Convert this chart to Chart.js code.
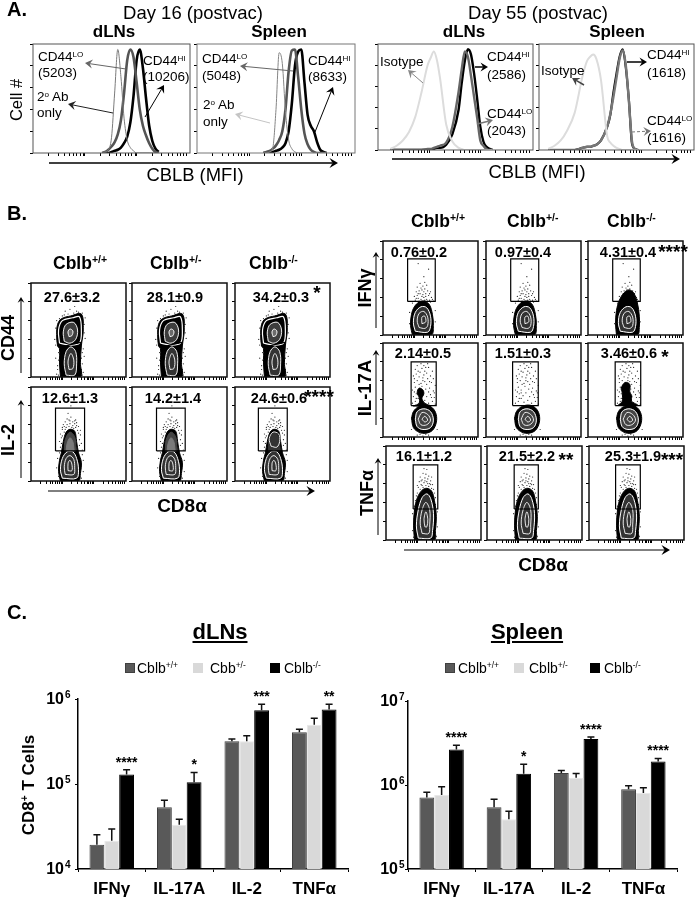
<!DOCTYPE html>
<html>
<head>
<meta charset="utf-8">
<title>CBLB figure</title>
<script src="https://cdn.jsdelivr.net/npm/chart.js@4"></script>
<style>
  html, body { margin: 0; padding: 0; background: #fff; }
  #page { position: relative; width: 695px; height: 899px; overflow: hidden; font-family: "Liberation Sans", Arial, sans-serif; color: #000; }
  #page canvas { position: absolute; }
  #page svg { position: absolute; left: 0; top: 0; }
  .t { position: absolute; white-space: nowrap; line-height: 1; }
  .t sup { font-size: .6em; vertical-align: .55em; line-height: 0; }
  .sw { position: absolute; width: 10px; height: 10px; }
</style>
</head>
<body>
<div id="page"></div>
<script>
// panel C values
const categories = ["IFNγ", "IL-17A", "IL-2", "TNFα"];
const dlnWt = [19300, 53100, 318000, 405000];
const dlnHet = [21500, 33200, 318000, 499000];
const dlnKo = [129000, 105000, 736000, 750000];
const dlnWtErr = [25300, 64300, 338000, 440000];
const dlnHetErr = [29500, 38400, 370000, 593000];
const dlnKoErr = [147000, 137000, 866000, 866000];
const dlnStars = ["****", "*", "***", "**"];
const dlnTicks = [1e4, 1e5, 1e6];
const spleenWt = [708000, 543000, 1390000, 889000];
const spleenHet = [761000, 392000, 1220000, 804000];
const spleenKo = [2650000, 1360000, 3540000, 1910000];
const spleenWtErr = [818000, 676000, 1490000, 982000];
const spleenHetErr = [955000, 487000, 1370000, 930000];
const spleenKoErr = [2980000, 1770000, 3740000, 2070000];
const spleenStars = ["****", "*", "****", "****"];
const spleenTicks = [1e5, 1e6, 1e7];

// panel A histograms
const histXTicks = [10, 16, 20, 23, 26, 28, 30, 32, 33, 43, 49, 53, 56, 59, 61, 63, 65, 66, 76, 82, 86, 89, 92, 94, 96, 98];
const histYTicks = [0, 20, 40, 60, 80, 100];
const d16LnX = [44, 46, 48, 50, 52, 54, 56, 58, 60, 62, 64, 66, 68, 70, 72, 74, 76, 78, 80];
const d16LnAb = [0, 1, 3, 14, 55, 95, 70, 32, 12, 5, 2, 0, 0, 0, 0, 0, 0, 0, 0];
const d16LnLo = [0, 1, 3, 6, 10, 17, 30, 55, 85, 95, 88, 65, 40, 25, 16, 9, 4, 1, 0];
const d16LnHi = [0, 0, 0, 1, 2, 3, 5, 9, 15, 28, 52, 85, 95, 78, 50, 25, 11, 4, 1];
const d16SpX = [42, 44, 46, 48, 50, 52, 54, 56, 58, 60, 62, 64, 66, 68, 70, 72, 74, 76, 78, 80, 82];
const d16SpAb = [0, 0, 1, 5, 40, 92, 82, 38, 12, 4, 1, 0, 0, 0, 0, 0, 0, 0, 0, 0, 0];
const d16SpLo = [0, 1, 2, 4, 7, 12, 20, 40, 75, 94, 95, 70, 40, 18, 8, 3, 1, 0, 0, 0, 0];
const d16SpHi = [0, 0, 0, 1, 2, 3, 5, 9, 20, 45, 80, 93, 95, 65, 35, 25, 20, 10, 3, 1, 0];
const d55LnX = [8, 12, 16, 20, 24, 28, 32, 34, 36, 38, 40, 44, 48, 52, 54, 56, 58, 60, 62, 64, 66, 68, 70, 72, 74];
const d55LnIso = [1, 4, 9, 17, 31, 54, 80, 87, 93, 85, 68, 24, 8, 2, 1, 0, 0, 0, 0, 0, 0, 0, 0, 0, 0];
const d55LnLo = [0, 0, 0, 0, 0, 0, 1, 1, 2, 3, 4, 7, 22, 55, 76, 93, 88, 70, 50, 30, 9, 4, 1, 0, 0];
const d55LnHi = [0, 0, 0, 0, 0, 0, 0, 0, 1, 2, 2, 5, 15, 38, 63, 84, 95, 90, 72, 48, 22, 8, 3, 1, 0];
const d55SpX = [6, 10, 14, 18, 23, 28, 31, 33, 35, 37, 40, 44, 46, 48, 50, 52, 54, 56, 58, 60, 62, 64];
const d55SpIso = [1, 4, 9, 18, 35, 69, 84, 88, 90, 86, 66, 13, 7, 4, 2, 1, 0, 0, 0, 0, 0, 0];
const d55SpLo = [0, 0, 0, 0, 0, 2, 3, 3, 4, 5, 9, 22, 34, 50, 68, 86, 94, 80, 46, 8, 1, 0];
const d55SpHi = [0, 0, 0, 0, 0, 2, 3, 3, 4, 5, 9, 22, 33, 54, 72, 88, 95, 78, 47, 6, 1, 0];

// panel B percentages and gates
const cd44Vals = ["27.6±3.2", "28.1±0.9", "34.2±0.3"];
const il2Vals = ["12.6±1.3", "14.2±1.4", "24.6±0.6"];
const ifnVals = ["0.76±0.2", "0.97±0.4", "4.31±0.4"];
const il17Vals = ["2.14±0.5", "1.51±0.3", "3.46±0.6"];
const tnfVals = ["16.1±1.2", "21.5±2.2", "25.3±1.9"];
const il2Gates = [[25.8, 56.4, 32, 77.6], [25.8, 56, 32, 77.6], [24.6, 55, 32, 77.6]];
const ifnGates = [[25.9, 55, 35.7, 81], [26, 55.5, 35.7, 81], [26, 55, 35.7, 81]];
const il17Gates = [[29.6, 56, 33.4, 80], [28, 55, 33.4, 80], [28.6, 55.5, 33.4, 80]];
const tnfGates = [[28.6, 54.5, 33, 80], [28.6, 54, 33, 80], [28, 54, 33, 80]];

// contour outlines
const cd44Outer = [[31, 0], [30, 15], [30, 30], [28, 33], [27, 45], [28, 56], [32, 62], [42, 65], [53, 67], [55, 50], [53, 33], [52, 15], [52, 0], [31, 0]];
const cd44RingA = [[30, 36], [29, 50], [33, 60], [44, 63], [51, 64], [53, 50], [51, 36], [40, 34], [30, 36]];
const cd44RingB = [[35, 38], [34, 48], [37, 56], [45, 58], [49, 50], [47, 40], [41, 36], [35, 38]];
const cd44RingC = [[40, 43], [39, 48], [41, 51], [44, 49], [43, 44], [40, 43]];
const cd44Waist = [[29, 32], [36, 33], [44, 35], [53, 37]];
const cd44LowA = [[37, 2], [35, 14], [37, 27], [42, 32], [47, 27], [48, 14], [46, 2], [37, 2]];
const cd44LowB = [[40, 8], [39, 17], [42, 25], [45, 18], [44, 9], [40, 8]];
const il2Outer = [[31, 0], [29, 10], [30, 22], [32, 30], [34, 42], [37, 52], [41, 55], [46, 53], [48, 42], [50, 30], [53, 20], [52, 8], [50, 0], [31, 0]];
const il2Upper = [[35, 32], [36, 44], [41, 52], [46, 47], [47, 38], [47, 32], [35, 32]];
const il2UpperIn = [[37, 32], [38, 40], [41, 46], [44, 42], [45, 36], [45, 32], [37, 32]];
const il2RingA = [[33, 3], [31, 12], [33, 24], [38, 31], [44, 31], [48, 24], [50, 12], [48, 3], [33, 3]];
const il2RingB = [[36, 7], [35, 15], [37, 24], [41, 27], [45, 23], [46, 14], [45, 7], [36, 7]];
const il2RingC = [[39, 11], [39, 19], [41, 22], [43, 18], [43, 11], [39, 11]];
const il2KoRing = [[38, 37], [36, 45], [40, 52], [46, 50], [47, 42], [44, 36], [38, 37]];
const ifnOuter = [[31, 0], [29, 10], [30, 22], [33, 30], [38, 35], [44, 36], [49, 32], [52, 22], [53, 10], [51, 0], [31, 0]];
const ifnKoOuter = [[30, 0], [29, 12], [30, 26], [33, 37], [38, 45], [43, 48], [48, 45], [52, 34], [54, 20], [54, 8], [52, 0], [30, 0]];
const ifnRingA = [[34, 4], [32, 13], [34, 24], [40, 30], [46, 29], [50, 20], [50, 9], [47, 3], [34, 4]];
const ifnRingB = [[38, 8], [36, 15], [38, 23], [43, 25], [47, 19], [47, 10], [44, 7], [38, 8]];
const ifnRingC = [[41, 12], [41, 19], [44, 20], [45, 14], [41, 12]];
const il17Outer = [[30, 20], [32, 10], [38, 5], [45, 4], [52, 7], [56, 15], [56, 24], [52, 31], [45, 34], [37, 32], [32, 27], [30, 20]];
const il17RingA = [[34, 19], [36, 11], [42, 8], [50, 10], [53, 18], [50, 27], [43, 30], [36, 27], [34, 19]];
const il17RingB = [[37, 19], [40, 13], [46, 13], [50, 18], [47, 24], [41, 26], [37, 19]];
const il17RingC = [[41, 19], [44, 16], [47, 18], [44, 22], [41, 19]];
const il17BlobWt = [[32, 33], [38, 36], [38, 42], [36, 47], [38, 52], [42, 50], [43, 46], [41, 41], [44, 36], [50, 33], [32, 33]];
const il17BlobKo = [[32, 34], [36, 38], [36, 47], [35, 52], [39, 58], [44, 56], [44, 48], [46, 44], [46, 38], [52, 34], [32, 34]];
const tnfOuter = [[30, 0], [29, 15], [30, 32], [33, 45], [38, 53], [43, 55], [48, 52], [51, 42], [53, 25], [52, 10], [51, 0], [30, 0]];
const tnfRingA = [[34, 2], [32, 15], [34, 32], [38, 45], [43, 49], [47, 44], [50, 28], [49, 10], [47, 2], [34, 2]];
const tnfRingB = [[38, 7], [36, 18], [38, 32], [42, 40], [46, 32], [46, 16], [45, 7], [38, 7]];
const tnfRingC = [[41, 14], [40, 22], [42, 30], [44, 22], [43, 14], [41, 14]];

// stray events outside the contours
const cd44Dots = [[27, 3], [28, 12], [26, 20], [29, 26], [55, 5], [54, 14], [56, 22], [55, 30], [57, 41], [56, 56], [57, 63], [30, 62], [26, 52], [25, 40], [35, 66], [45, 68], [50, 69], [41, 72], [46, 75], [36, 70], [54, 68], [28, 8], [54, 26], [26, 34], [29, 18], [53, 8], [53, 20], [56, 47], [27, 60], [33, 65], [39, 67], [48, 70], [29, 2], [54, 2]];
const il2Dots = [[33, 55], [35, 58], [38, 60], [41, 61], [44, 59], [47, 57], [49, 54], [31, 50], [32, 46], [52, 49], [51, 44], [36, 63], [40, 65], [44, 63], [48, 62], [34, 60], [37, 57], [46, 61], [42, 68], [39, 72], [42, 80], [50, 58], [30, 42], [53, 40], [31, 36], [54, 33], [28, 24], [55, 22], [27, 14], [55, 10], [29, 5], [53, 3], [43, 57], [35, 52], [38, 66], [47, 65], [33, 48], [50, 51], [36, 55], [40, 58], [45, 56], [48, 59], [33, 57], [52, 54], [41, 64], [30, 30], [54, 28], [51, 38], [32, 40], [46, 64]];
const ifnDots = [[34, 37], [37, 39], [40, 38], [43, 40], [46, 38], [49, 37], [36, 42], [39, 44], [42, 43], [45, 44], [48, 42], [51, 40], [33, 41], [38, 47], [41, 48], [44, 49], [47, 47], [35, 46], [42, 52], [39, 55], [46, 53], [36, 51], [50, 46], [53, 36], [43, 62], [37, 76], [48, 70], [31, 34], [44, 37], [41, 41], [35, 39], [38, 36], [47, 36], [50, 35], [43, 46], [40, 50], [37, 44], [49, 44], [45, 41], [52, 38], [44, 56], [28, 12], [28, 24], [55, 14], [55, 26]];
const il17Dots = [[31, 36], [34, 38], [37, 41], [40, 37], [44, 39], [48, 36], [52, 38], [55, 35], [32, 43], [35, 46], [39, 44], [42, 47], [46, 43], [50, 45], [54, 42], [31, 50], [34, 53], [37, 50], [41, 54], [45, 51], [49, 52], [53, 49], [33, 58], [36, 60], [40, 57], [44, 59], [47, 62], [51, 58], [55, 55], [32, 65], [35, 67], [38, 64], [42, 63], [46, 68], [50, 65], [53, 62], [34, 72], [37, 70], [41, 73], [44, 70], [48, 74], [52, 70], [36, 76], [40, 78], [43, 76], [47, 78], [33, 48], [38, 56], [43, 66], [49, 59], [35, 41], [46, 56], [39, 69], [45, 74], [51, 42], [37, 47], [42, 60], [48, 48], [33, 62], [54, 47], [36, 2], [42, 1], [48, 2], [39, 3], [45, 3], [30, 8], [57, 8]];
const tnfDots = [[33, 50], [36, 54], [39, 56], [42, 58], [45, 57], [48, 55], [51, 50], [34, 56], [37, 59], [40, 61], [43, 62], [46, 60], [49, 59], [35, 62], [38, 64], [41, 66], [44, 65], [47, 63], [36, 67], [42, 70], [45, 68], [39, 71], [48, 67], [43, 75], [52, 45], [31, 42], [54, 30], [28, 28], [54, 14], [28, 10], [53, 4], [29, 3], [40, 76], [33, 58], [32, 47], [50, 54], [37, 63], [44, 60], [41, 63], [47, 59], [38, 58], [52, 38], [30, 36]];

const FONT = '"Liberation Sans", Arial, sans-serif';
const page = document.getElementById("page");

Chart.defaults.animation = false;
Chart.defaults.font.family = FONT;

const framePlugin = {
  id: "frame",
  afterDatasetsDraw(chart, args, opts) {
    const a = chart.chartArea;
    const ctx = chart.ctx;
    ctx.save();
    ctx.strokeStyle = opts.color;
    ctx.lineWidth = opts.width;
    ctx.strokeRect(a.left, a.top, a.right - a.left, a.bottom - a.top);
    ctx.restore();
  },
};

// error bars and significance marks, plus the 10^n labels
const barExtras = {
  id: "barExtras",
  afterDatasetsDraw(chart, args, opts) {
    const ctx = chart.ctx;
    const y = chart.scales.y;
    ctx.save();
    ctx.strokeStyle = "#111";
    ctx.lineWidth = 1.5;
    opts.errors.forEach((errs, d) => {
      chart.getDatasetMeta(d).data.forEach((bar, i) => {
        const top = y.getPixelForValue(errs[i]);
        ctx.beginPath();
        ctx.moveTo(bar.x, y.getPixelForValue(chart.data.datasets[d].data[i]));
        ctx.lineTo(bar.x, top);
        ctx.moveTo(bar.x - 3.5, top);
        ctx.lineTo(bar.x + 3.5, top);
        ctx.stroke();
      });
    });
    ctx.fillStyle = "#000";
    ctx.textAlign = "center";
    ctx.font = "bold 14px " + FONT;
    const last = opts.errors.length - 1;
    chart.getDatasetMeta(last).data.forEach((bar, i) => {
      ctx.fillText(opts.stars[i], bar.x, y.getPixelForValue(opts.errors[last][i]) - 3);
    });
    y.ticks.forEach((t) => {
      const py = y.getPixelForValue(t.value);
      const x = chart.chartArea.left - opts.labelGap;
      ctx.textAlign = "right";
      ctx.textBaseline = "middle";
      ctx.font = "bold 16px " + FONT;
      ctx.fillText("10", x, py + 1);
      ctx.textAlign = "left";
      ctx.font = "bold 10px " + FONT;
      ctx.fillText(String(Math.round(Math.log10(t.value))), x + 1, py - 4);
    });
    ctx.restore();
  },
};

// small boxed plot with ticks around a 0-100 data frame
function framedChart(x, y, w, h, datasets, frame) {
  const c = document.createElement("canvas");
  c.width = w + 6;
  c.height = h + 6;
  c.style.left = x - 4 + "px";
  c.style.top = y - 2 + "px";
  page.appendChild(c);
  new Chart(c, {
    type: "scatter",
    data: { datasets },
    options: {
      responsive: false,
      layout: { padding: { top: 2, right: 2 } },
      plugins: { legend: { display: false }, tooltip: { enabled: false }, frame },
      scales: {
        x: {
          type: "linear", min: 0, max: 100,
          border: { display: false },
          grid: { drawOnChartArea: false, tickLength: 3, color: "#000" },
          ticks: { display: false, autoSkip: false },
          afterBuildTicks: (s) => { s.ticks = histXTicks.map((value) => ({ value })); },
          afterFit: (s) => { s.height = 4; },
        },
        y: {
          type: "linear", min: 0, max: 100,
          border: { display: false },
          grid: { drawOnChartArea: false, tickLength: 3, color: "#000" },
          ticks: { display: false, autoSkip: false },
          afterBuildTicks: (s) => { s.ticks = histYTicks.map((value) => ({ value })); },
          afterFit: (s) => { s.width = 4; },
        },
      },
    },
    plugins: [framePlugin],
  });
}

function histCurve(xs, ys, color, width) {
  return {
    data: xs.map((x, i) => ({ x, y: ys[i] })),
    showLine: true, borderColor: color, borderWidth: width,
    pointRadius: 0, cubicInterpolationMode: "monotone",
  };
}

function histChart(x, y, w, h, curves, color) {
  framedChart(x, y, w, h, curves, { color, width: 1 });
}

const toXY = (pts) => pts.map((p) => ({ x: p[0], y: p[1] }));

function solid(pts, color) {
  return { data: toXY(pts), showLine: true, fill: "shape", backgroundColor: color, borderColor: color, borderWidth: 1, pointRadius: 0, tension: 0.35 };
}
function ring(pts, color, width) {
  return { data: toXY(pts), showLine: true, borderColor: color, borderWidth: width, pointRadius: 0, tension: 0.35 };
}
function gateBox(g) {
  return {
    data: toXY([[g[0], g[2]], [g[1], g[2]], [g[1], g[3]], [g[0], g[3]], [g[0], g[2]]]),
    showLine: true, borderColor: "#000", borderWidth: 1.2, pointRadius: 0,
  };
}
function dots(pts) {
  return { data: toXY(pts), showLine: false, pointRadius: 0.6, backgroundColor: "#222", borderWidth: 0 };
}

// first dataset ends up on top, so layers are written bottom to top and flipped
function flowChart(x, y, layers) {
  framedChart(x, y, 97, 96, layers.slice().reverse(), { color: "#111", width: 1.5 });
}

// panel A
histChart(33, 44, 157, 109, [
  histCurve(d16LnX, d16LnAb, "#7a7a7a", 1),
  histCurve(d16LnX, d16LnLo, "#555", 2.6),
  histCurve(d16LnX, d16LnHi, "#000", 2.6),
], "#555");
histChart(197, 44, 158, 109, [
  histCurve(d16SpX, d16SpAb, "#858585", 1),
  histCurve(d16SpX, d16SpLo, "#555", 2.6),
  histCurve(d16SpX, d16SpHi, "#000", 2.6),
], "#777");
histChart(378, 44, 155, 106, [
  histCurve(d55LnX, d55LnIso, "#dcdcdc", 2),
  histCurve(d55LnX, d55LnLo, "#666", 2.4),
  histCurve(d55LnX, d55LnHi, "#000", 2.4),
], "#555");
histChart(539, 44, 155, 106, [
  histCurve(d55SpX, d55SpIso, "#dcdcdc", 2),
  histCurve(d55SpX, d55SpLo, "#777", 2.4),
  histCurve(d55SpX, d55SpHi, "#000", 2.2),
], "#555");

// panel B, left block
[31, 132, 235].forEach((x) => {
  flowChart(x, 281, [
    dots(cd44Dots), solid(cd44Outer, "#000"), solid(cd44RingB, "#3d3d3d"),
    ring(cd44RingA, "#fff", 1.2), ring(cd44RingB, "#fff", 0.9), solid(cd44RingC, "#6a6a6a"),
    ring(cd44RingC, "#fff", 0.9), solid(cd44LowA, "#333"), ring(cd44LowA, "#fff", 0.9),
    ring(cd44LowB, "#fff", 0.9), ring(cd44Waist, "#000", 1.2),
  ]);
});
[31, 132, 235].forEach((x, i) => {
  const upper = i < 2
    ? [solid(il2Upper, "#444"), solid(il2UpperIn, "#7a7a7a")]
    : [solid(il2Upper, "#333"), ring(il2KoRing, "#fff", 0.9)];
  flowChart(x, 385, [
    dots(il2Dots), solid(il2Outer, "#000"), ...upper, solid(il2RingA, "#333"),
    ring(il2RingA, "#fff", 1), ring(il2RingB, "#fff", 0.9), ring(il2RingC, "#fff", 0.9),
    gateBox(il2Gates[i]),
  ]);
});

// panel B, right block
[383, 486, 588].forEach((x, i) => {
  flowChart(x, 239, [
    dots(ifnDots), solid(i === 2 ? ifnKoOuter : ifnOuter, "#000"), solid(ifnRingA, "#333"),
    ring(ifnRingA, "#fff", 1), ring(ifnRingB, "#fff", 0.9), ring(ifnRingC, "#fff", 0.9),
    gateBox(ifnGates[i]),
  ]);
});
[383, 486, 588].forEach((x, i) => {
  const blob = i === 0 ? [solid(il17BlobWt, "#000")] : i === 2 ? [solid(il17BlobKo, "#000")] : [];
  flowChart(x, 341, [
    dots(il17Dots), ...blob, solid(il17Outer, "#000"), solid(il17RingA, "#444"),
    ring(il17RingA, "#fff", 1), ring(il17RingB, "#fff", 0.9), ring(il17RingC, "#fff", 0.9),
    gateBox(il17Gates[i]),
  ]);
});
[386, 487, 589].forEach((x, i) => {
  flowChart(x, 444, [
    dots(tnfDots), solid(tnfOuter, "#000"), solid(tnfRingA, "#333"),
    ring(tnfRingA, "#fff", 1), ring(tnfRingB, "#fff", 0.9), ring(tnfRingC, "#fff", 0.9),
    gateBox(tnfGates[i]),
  ]);
});

// panel C
function barChart(x, y, w, h, left, wt, het, ko, errors, stars, ticks, min, max, labelGap) {
  const c = document.createElement("canvas");
  c.width = w + left + 2;
  c.height = h + 44;
  c.style.left = x - left + "px";
  c.style.top = y - 14 + "px";
  page.appendChild(c);
  const bar = (label, data, bg, border) => ({
    label, data, backgroundColor: bg, borderColor: border, borderWidth: 1,
    categoryPercentage: 0.66, barPercentage: 1,
  });
  new Chart(c, {
    type: "bar",
    data: {
      labels: categories,
      datasets: [
        bar("Cblb+/+", wt, "#595959", "#404040"),
        bar("Cblb+/-", het, "#d9d9d9", "#e8e8e8"),
        bar("Cblb-/-", ko, "#000", "#000"),
      ],
    },
    options: {
      responsive: false,
      layout: { padding: { top: 14, right: 2 } },
      plugins: {
        legend: { display: false }, tooltip: { enabled: false },
        barExtras: { errors, stars, labelGap },
      },
      scales: {
        x: {
          border: { color: "#000", width: 1.5 },
          grid: { drawOnChartArea: false, tickLength: 3, color: "#000" },
          ticks: { color: "#000", padding: 7, font: { size: 17, weight: "bold" }, maxRotation: 0 },
          afterFit: (s) => { s.height = 30; },
        },
        y: {
          type: "logarithmic", min, max,
          border: { color: "#000", width: 1.5 },
          grid: { drawOnChartArea: false, tickLength: 3, color: "#000" },
          ticks: { display: false, autoSkip: false },
          afterBuildTicks: (s) => { s.ticks = ticks.map((value) => ({ value })); },
          afterFit: (s) => { s.width = left; },
        },
      },
    },
    plugins: [barExtras],
  });
}
barChart(78, 699, 270, 170, 40, dlnWt, dlnHet, dlnKo, [dlnWtErr, dlnHetErr, dlnKoErr], dlnStars, dlnTicks, 1e4, 1e6, 14);
barChart(408, 701, 269, 168, 40, spleenWt, spleenHet, spleenKo, [spleenWtErr, spleenHetErr, spleenKoErr], spleenStars, spleenTicks, 1e5, 1e7, 10);

// arrows
const svg = document.createElementNS("http://www.w3.org/2000/svg", "svg");
svg.setAttribute("width", 695);
svg.setAttribute("height", 899);
page.appendChild(svg);
function arrow(x1, y1, x2, y2, color, width, head, dash) {
  const a = Math.atan2(y2 - y1, x2 - x1);
  const line = document.createElementNS(svg.namespaceURI, "line");
  line.setAttribute("x1", x1);
  line.setAttribute("y1", y1);
  line.setAttribute("x2", x2 - Math.cos(a) * head * 0.6);
  line.setAttribute("y2", y2 - Math.sin(a) * head * 0.6);
  line.setAttribute("stroke", color);
  line.setAttribute("stroke-width", width);
  if (dash) line.setAttribute("stroke-dasharray", dash);
  svg.appendChild(line);
  const px = (r, t) => (x2 + Math.cos(a + t) * r).toFixed(1) + "," + (y2 + Math.sin(a + t) * r).toFixed(1);
  const tri = document.createElementNS(svg.namespaceURI, "polygon");
  tri.setAttribute("points", [px(0, 0), px(head * 1.1, 2.6), px(head * 0.6, Math.PI), px(head * 1.1, -2.6)].join(" "));
  tri.setAttribute("fill", color);
  svg.appendChild(tri);
}
arrow(49, 163, 338, 163, "#000", 1.5, 9);
arrow(392, 159, 680, 159, "#000", 1.5, 9);
arrow(126, 69, 85, 63, "#666", 1, 8);
arrow(113, 113, 68, 104, "#222", 1, 8);
arrow(145, 117, 164, 85, "#000", 1, 8);
arrow(293, 71, 240, 66, "#666", 1, 8);
arrow(270, 123, 235, 114, "#c4c4c4", 1, 8);
arrow(315, 132, 333, 87, "#000", 1, 8);
arrow(423, 83, 408, 70, "#888", 1, 8);
arrow(475, 67, 488, 67, "#000", 1.5, 8);
arrow(477, 124, 493, 120, "#777", 1.5, 8);
arrow(584, 85, 572, 78, "#444", 1.5, 8);
arrow(627, 62, 647, 62, "#000", 1.5, 8);
arrow(632, 132, 651, 131, "#777", 1, 8, "3 2");
arrow(21, 373, 21, 297, "#000", 1, 6);
arrow(21, 478, 21, 400, "#000", 1, 6);
arrow(48, 491, 315, 491, "#000", 1, 9);
arrow(376, 328, 376, 252, "#000", 1, 6);
arrow(376, 425, 376, 350, "#000", 1, 6);
arrow(378, 535, 378, 458, "#000", 1, 6);
arrow(404, 550, 670, 550, "#000", 1, 9);

// text
function put(x, y, html, size, opts) {
  const o = opts || {};
  const d = document.createElement("div");
  d.className = "t";
  d.innerHTML = html;
  d.style.left = x + "px";
  d.style.top = y + "px";
  d.style.fontSize = size + "px";
  if (o.bold) d.style.fontWeight = "bold";
  if (o.under) d.style.textDecoration = "underline";
  const shift = o.center || o.rot ? "-50%" : "0";
  d.style.transform = "translate(" + shift + ",-50%)" + (o.rot ? " rotate(-90deg)" : "");
  page.appendChild(d);
}
const B = { bold: true };
const BC = { bold: true, center: true };
const C = { center: true };
const R = { rot: true };
const BR = { bold: true, rot: true };

put(7, 9, "A.", 20, B);
put(7, 213, "B.", 20, B);
put(7, 612, "C.", 20, B);
put(193, 13, "Day 16 (postvac)", 18.5, C);
put(538, 13, "Day 55 (postvac)", 18.5, C);
put(114, 31, "dLNs", 17, BC);
put(279, 31, "Spleen", 17, BC);
put(464, 31, "dLNs", 17, BC);
put(617, 31, "Spleen", 17, BC);
put(16, 100, "Cell #", 16.5, R);
put(195, 175, "CBLB (MFI)", 18.4, C);
put(537, 172, "CBLB (MFI)", 18.4, C);

const LO = "CD44<sup>LO</sup>";
const HI = "CD44<sup>HI</sup>";
const AB = "2<sup>o</sup> Ab";
[
  [38, 57, LO], [38, 73, "(5203)"], [37, 97, AB], [37, 113, "only"], [143, 61, HI], [143, 77, "(10206)"],
  [202, 59, LO], [202, 76, "(5048)"], [203, 105, AB], [203, 122, "only"], [308, 61, HI], [308, 77, "(8633)"],
  [380, 62, "Isotype"], [487, 57, HI], [487, 75, "(2586)"], [487, 114, LO], [487, 131, "(2043)"],
  [541, 71, "Isotype"], [647, 55, HI], [647, 73, "(1618)"], [647, 121, LO], [647, 138, "(1616)"],
].forEach((l) => put(l[0], l[1], l[2], 13.5));

const WT = "Cblb<sup>+/+</sup>";
const HET = "Cblb<sup>+/-</sup>";
const KO = "Cblb<sup>-/-</sup>";
[[53, WT], [150, HET], [249, KO]].forEach((l) => put(l[0], 264, l[1], 17.5, B));
[[411, WT], [507, HET], [607, KO]].forEach((l) => put(l[0], 222, l[1], 17.5, B));

put(8, 338, "CD44", 18, BR);
put(8, 440, "IL-2", 18, BR);
put(182, 505, "CD8α", 19, BC);
put(365, 288, "IFNγ", 18, BR);
put(365, 388, "IL-17A", 18.5, BR);
put(367, 493, "TNFα", 18, BR);
put(543, 564, "CD8α", 19, BC);

[72, 175, 281].forEach((x, i) => put(x, 297, cd44Vals[i], 14.5, BC));
[70, 173, 279].forEach((x, i) => put(x, 398, il2Vals[i], 14.5, BC));
[419, 523, 628].forEach((x, i) => put(x, 252, ifnVals[i], 14.5, BC));
[423, 523, 629].forEach((x, i) => put(x, 353, il17Vals[i], 14.5, BC));
[424, 527, 633].forEach((x, i) => put(x, 456, tnfVals[i], 14.5, BC));
put(317, 292, "*", 19, BC);
put(319, 396, "****", 19, BC);
put(673, 251, "****", 19, BC);
put(665, 356, "*", 19, BC);
put(566, 459, "**", 19, BC);
put(672, 459, "***", 19, BC);

put(220, 632, "dLNs", 22, { bold: true, center: true, under: true });
put(527, 632, "Spleen", 22, { bold: true, center: true, under: true });
put(28, 785, "CD8<sup>+</sup> T Cells", 17, BR);

function swatch(x, color, border) {
  const s = document.createElement("div");
  s.className = "sw";
  s.style.left = x + "px";
  s.style.top = "663px";
  s.style.background = color;
  if (border) { s.style.boxSizing = "border-box"; s.style.border = "1px solid " + border; }
  page.appendChild(s);
}
swatch(125, "#595959", "#404040");
swatch(193, "#d9d9d9");
swatch(270, "#000");
swatch(445, "#595959", "#404040");
swatch(514, "#d9d9d9");
swatch(590, "#000");
put(137, 668, WT, 14);
put(210, 668, "Cbb<sup>+/-</sup>", 14);
put(284, 668, KO, 14);
put(458, 668, WT, 14);
put(529, 668, HET, 14);
put(604, 668, KO, 14);
</script>
</body>
</html>
